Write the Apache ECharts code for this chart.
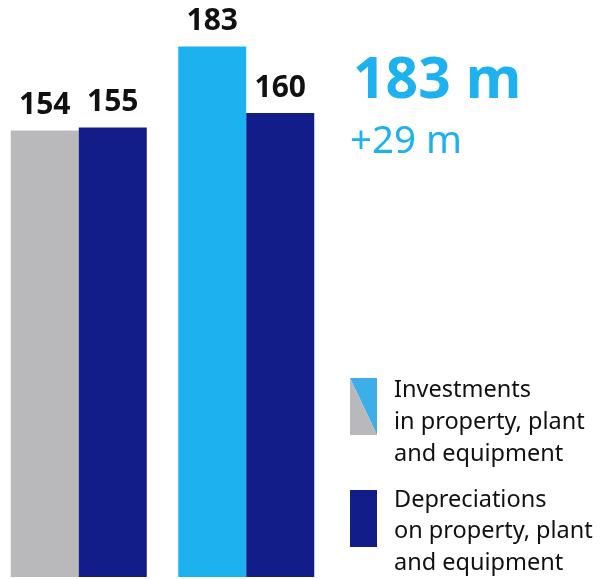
<!DOCTYPE html>
<html>
<head>
<meta charset="utf-8">
<script src="https://cdn.jsdelivr.net/npm/echarts@6/dist/echarts.min.js"></script>
<style>
  html, body { margin: 0; padding: 0; background: #ffffff; }
  #chart { width: 602px; height: 579px; }
</style>
</head>
<body>
<div id="chart"></div>
<script>
// Two years side by side, in million euros
const periods = ['Previous year', 'Current year'];
const investments = [154, 183];
const depreciations = [155, 160];
const legendInvestments = 'Investments\nin property, plant\nand equipment';
const legendDepreciations = 'Depreciations\non property, plant\nand equipment';

const GREY = '#b9b9bb';
const CYAN = '#1db1f0';
const CYAN_LIGHT = '#3daee8';
const NAVY = '#121d8a';
const FONT = '"Noto Sans", "Open Sans", sans-serif';

const latest = investments[investments.length - 1];
const change = latest - investments[investments.length - 2];
const headline = latest + ' m';
const delta = (change >= 0 ? '+' : '') + change + ' m';

const chart = echarts.init(document.getElementById('chart'), null, { renderer: 'canvas' });

const barLabel = {
  show: true,
  position: 'top',
  distance: 10,
  color: '#111111',
  fontFamily: FONT,
  fontWeight: 'bold',
  fontSize: 30
};

chart.setOption({
  animation: false,
  backgroundColor: '#ffffff',
  grid: { left: -5, width: 335, top: 0, bottom: 2, outerBoundsMode: 'none' },
  xAxis: {
    type: 'category',
    data: periods,
    axisLine: { show: false },
    axisTick: { show: false },
    axisLabel: { show: false },
    splitLine: { show: false }
  },
  yAxis: {
    type: 'value',
    min: 0,
    max: 199,
    show: false,
    splitLine: { show: false }
  },
  series: [
    {
      name: 'Investments',
      type: 'bar',
      barWidth: 68,
      barGap: '0%',
      data: investments.map((v, i) => ({
        value: v,
        itemStyle: { color: i === investments.length - 1 ? CYAN : GREY }
      })),
      label: barLabel
    },
    {
      name: 'Depreciations',
      type: 'bar',
      barWidth: 68,
      barGap: '0%',
      data: depreciations,
      itemStyle: { color: NAVY },
      label: barLabel
    }
  ],
  graphic: [
    {
      type: 'text',
      x: 353,
      y: 82,
      style: {
        text: headline,
        fill: CYAN,
        font: 'bold 57px ' + FONT,
        verticalAlign: 'middle'
      }
    },
    {
      type: 'text',
      x: 350,
      y: 142,
      style: {
        text: delta,
        fill: CYAN,
        font: '38.5px ' + FONT,
        verticalAlign: 'middle'
      }
    },
    // legend key for investments: grey lower-left, cyan upper-right
    {
      type: 'polygon',
      shape: { points: [[350, 378], [377, 378], [377, 435]] },
      style: { fill: CYAN_LIGHT }
    },
    {
      type: 'polygon',
      shape: { points: [[350, 378], [377, 435], [350, 435]] },
      style: { fill: GREY }
    },
    {
      type: 'text',
      x: 394,
      y: 374,
      style: {
        text: legendInvestments,
        fill: '#111111',
        font: '23.5px ' + FONT,
        lineHeight: 32,
        verticalAlign: 'top'
      }
    },
    // legend key for depreciations
    {
      type: 'rect',
      shape: { x: 350, y: 490, width: 27, height: 57 },
      style: { fill: NAVY }
    },
    {
      type: 'text',
      x: 394,
      y: 484.5,
      style: {
        text: legendDepreciations,
        fill: '#111111',
        font: '23.5px ' + FONT,
        lineHeight: 31.5,
        verticalAlign: 'top'
      }
    }
  ]
});
</script>
</body>
</html>
